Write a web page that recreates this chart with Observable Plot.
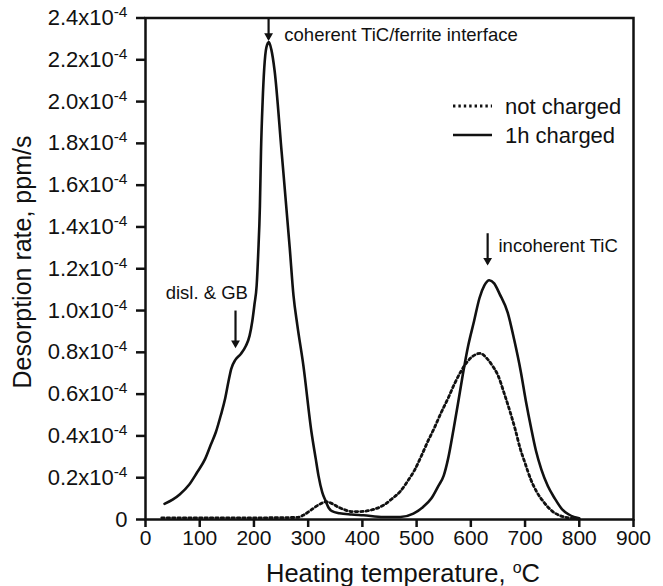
<!DOCTYPE html>
<html>
<head>
<meta charset="utf-8">
<script src="https://cdn.jsdelivr.net/npm/d3@7"></script>
<script src="https://cdn.jsdelivr.net/npm/@observablehq/plot@0.6"></script>
<style>
  html, body { margin: 0; padding: 0; background: #fff; }
  svg { font-family: "Liberation Sans", Arial, sans-serif; }
</style>
</head>
<body>
<div id="chart"></div>
<script>
// Heating temperature (°C) and desorption rate (x10^-4 ppm/s)
const tempCharged = [35, 50, 63, 80, 95, 110, 120, 130, 139, 147, 153, 158, 166, 175, 185, 192, 197, 201, 205, 208, 211, 213, 216, 219, 223, 227.5, 232, 238, 251, 266, 273, 280, 291, 306, 314, 319, 326, 332, 338, 344, 358, 380, 402, 439, 470, 494, 512, 527, 540, 550, 558, 568, 576, 585, 595, 606, 616, 625, 634, 643, 653, 668, 680, 692, 702, 711, 720, 730, 742, 755, 768, 780, 790, 800];
const rateCharged = [0.075, 0.095, 0.12, 0.165, 0.225, 0.29, 0.355, 0.42, 0.50, 0.58, 0.66, 0.72, 0.765, 0.79, 0.83, 0.88, 0.95, 1.03, 1.12, 1.28, 1.50, 1.76, 2.00, 2.16, 2.26, 2.285, 2.25, 2.15, 1.76, 1.30, 1.07, 0.93, 0.74, 0.42, 0.29, 0.21, 0.13, 0.09, 0.055, 0.04, 0.03, 0.024, 0.02, 0.012, 0.012, 0.028, 0.06, 0.10, 0.16, 0.21, 0.29, 0.43, 0.55, 0.69, 0.83, 0.95, 1.06, 1.12, 1.145, 1.13, 1.08, 0.99, 0.86, 0.71, 0.56, 0.44, 0.33, 0.24, 0.16, 0.10, 0.05, 0.025, 0.012, 0.006];

const tempNot = [30, 100, 200, 280, 292, 305, 318, 334, 345, 355, 368, 380, 395, 410, 425, 440, 455, 470, 485, 497, 508, 520, 533, 545, 558, 570, 582, 592, 603, 617, 630, 640, 650, 662, 673, 682, 691, 700, 710, 722, 734, 750, 765, 780, 800];
const rateNot = [0.008, 0.008, 0.008, 0.01, 0.022, 0.045, 0.068, 0.085, 0.075, 0.06, 0.046, 0.038, 0.038, 0.042, 0.052, 0.07, 0.10, 0.135, 0.19, 0.24, 0.30, 0.37, 0.44, 0.51, 0.58, 0.65, 0.71, 0.75, 0.78, 0.795, 0.77, 0.735, 0.69, 0.60, 0.51, 0.43, 0.34, 0.27, 0.195, 0.13, 0.085, 0.04, 0.018, 0.008, 0.003];

const xTicks = [0, 100, 200, 300, 400, 500, 600, 700, 800, 900];
const yTicks = [0, 0.2, 0.4, 0.6, 0.8, 1.0, 1.2, 1.4, 1.6, 1.8, 2.0, 2.2, 2.4];

const seriesNames = ["not charged", "1h charged"];

const annLabels = ["coherent TiC/ferrite interface", "incoherent TiC", "disl. & GB"];
const annArrowX = [227, 631, 166];
const annArrowTop = [2.40, 1.37, 1.00];
const annArrowTip = [2.30, 1.225, 0.83];
const annTextX = [256, 651, 113];
const annTextY = [2.316, 1.31, 1.085];
const annAnchor = ["start", "start", "middle"];

const charged = tempCharged.map((t, i) => ({t, r: rateCharged[i]}));
const notCharged = tempNot.map((t, i) => ({t, r: rateNot[i]}));
const arrows = annLabels.map((l, i) => ({x: annArrowX[i], y1: annArrowTop[i], y2: annArrowTip[i]}));
const labels = annLabels.map((l, i) => ({label: l, x: annTextX[i], y: annTextY[i], anchor: annAnchor[i]}));

const W = 663, H = 586;
const mL = 145, mR = 30, mT = 17.5, mB = 67;
const DOT = "2.4,3";

const chart = Plot.plot({
  width: W, height: H,
  marginLeft: mL, marginRight: mR, marginTop: mT, marginBottom: mB,
  style: {fontFamily: "Liberation Sans, Arial, sans-serif", color: "#111", background: "#fff"},
  x: {domain: [0, 900], ticks: xTicks},
  y: {domain: [0, 2.4], ticks: yTicks},
  marks: [
    Plot.axisX({ticks: xTicks, tickSize: 8, tickPadding: 3, strokeWidth: 2.5, fontSize: 21, label: null, tickFormat: d => String(d)}),
    Plot.axisY({ticks: yTicks, tickSize: 9, tickPadding: 9, strokeWidth: 2.5, fontSize: 22, label: null,
      tickFormat: d => d === 0 ? "0" : d.toFixed(1) + "x10^-4"}),
    Plot.frame({stroke: "#111", strokeWidth: 2.5}),
    Plot.line(notCharged, {x: "t", y: "r", curve: "monotone-x", stroke: "#111", strokeWidth: 2.8, strokeDasharray: DOT}),
    Plot.line(charged, {x: "t", y: "r", curve: "monotone-x", stroke: "#111", strokeWidth: 2.6}),
    Plot.link(arrows, {x1: "x", x2: "x", y1: "y1", y2: "y2", stroke: "#111", strokeWidth: 2.2}),
    Plot.dot(arrows, {x: "x", y: "y2", symbol: "triangle2", rotate: 180, r: 4.2, fill: "#111", stroke: null, dy: -3}),
    Plot.text(labels.filter(d => d.anchor === "start"), {x: "x", y: "y", text: "label", textAnchor: "start", fontSize: 18.5, fill: "#111"}),
    Plot.text(labels.filter(d => d.anchor === "middle"), {x: "x", y: "y", text: "label", textAnchor: "middle", fontSize: 18.5, fill: "#111"})
  ]
});

// superscripts on y tick labels
chart.querySelectorAll("text").forEach(t => {
  const s = t.textContent;
  if (s.includes("^")) {
    const [base, sup] = s.split("^");
    while (t.firstChild) t.removeChild(t.firstChild);
    const a = document.createElementNS("http://www.w3.org/2000/svg", "tspan");
    a.textContent = base;
    const b = document.createElementNS("http://www.w3.org/2000/svg", "tspan");
    b.textContent = sup;
    b.setAttribute("font-size", "15.5");
    b.setAttribute("dy", "-8");
    t.appendChild(a); t.appendChild(b);
  }
});

const NS = "http://www.w3.org/2000/svg";
function el(name, attrs, text) {
  const e = document.createElementNS(NS, name);
  for (const k in attrs) e.setAttribute(k, attrs[k]);
  if (text != null) e.textContent = text;
  chart.appendChild(e);
  return e;
}

// legend
el("line", {x1: 453, x2: 492, y1: 106, y2: 106, stroke: "#111", "stroke-width": 2.8, "stroke-dasharray": DOT});
el("text", {x: 505, y: 106, dy: "0.35em", "font-size": 22, fill: "#111", "text-anchor": "start"}, seriesNames[0]);
el("line", {x1: 453, x2: 492, y1: 135, y2: 135, stroke: "#111", "stroke-width": 2.6});
el("text", {x: 505, y: 135, dy: "0.35em", "font-size": 22, fill: "#111", "text-anchor": "start"}, seriesNames[1]);

// axis titles
const xt = el("text", {x: 403, y: 582, "text-anchor": "middle", "font-size": 25.5, fill: "#111"});
const x1 = document.createElementNS(NS, "tspan"); x1.textContent = "Heating temperature, "; xt.appendChild(x1);
const x2 = document.createElementNS(NS, "tspan"); x2.textContent = "o"; x2.setAttribute("font-size", "16"); x2.setAttribute("dy", "-9"); xt.appendChild(x2);
const x3 = document.createElementNS(NS, "tspan"); x3.textContent = "C"; x3.setAttribute("dy", "9"); xt.appendChild(x3);

el("text", {transform: "translate(31,262) rotate(-90)", "text-anchor": "middle", "font-size": 25, fill: "#111"}, "Desorption rate, ppm/s");

document.getElementById("chart").appendChild(chart);
</script>
</body>
</html>
